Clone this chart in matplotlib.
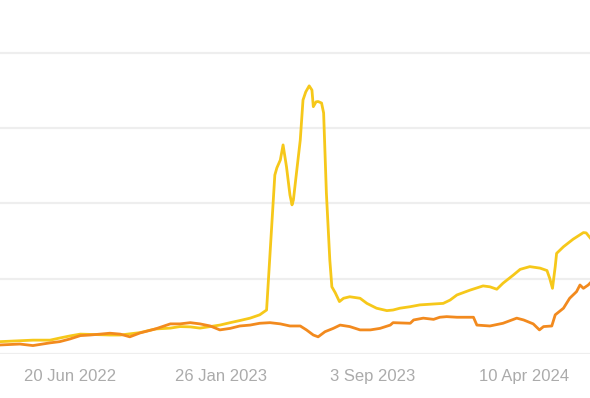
import matplotlib
matplotlib.use("Agg")
import matplotlib.pyplot as plt
import matplotlib.dates as mdates
import pandas as pd

plt.rcParams['font.family'] = ['Liberation Sans', 'DejaVu Sans']

# yellow series
yellow_dates = ["2022-03-10", "2022-04-08", "2022-04-27", "2022-05-22", "2022-06-05", "2022-06-20",
                "2022-07-05", "2022-07-19", "2022-08-03", "2022-08-17", "2022-09-01", "2022-09-30",
                "2022-10-22", "2022-11-13", "2022-11-27", "2022-12-12", "2022-12-26", "2023-01-10",
                "2023-01-24", "2023-02-08", "2023-02-22", "2023-03-09", "2023-03-23", "2023-04-02",
                "2023-04-14", "2023-04-17", "2023-04-22", "2023-04-26", "2023-05-01", "2023-05-06",
                "2023-05-09", "2023-05-11", "2023-05-16", "2023-05-21", "2023-05-25", "2023-05-29",
                "2023-06-03", "2023-06-07", "2023-06-09", "2023-06-13", "2023-06-16", "2023-06-21",
                "2023-06-24", "2023-06-28", "2023-07-03", "2023-07-06", "2023-07-11", "2023-07-17",
                "2023-07-23", "2023-08-01", "2023-08-16", "2023-08-26", "2023-09-09", "2023-09-24",
                "2023-10-03", "2023-10-13", "2023-10-28", "2023-11-11", "2023-12-01", "2023-12-15",
                "2023-12-25", "2024-01-04", "2024-01-23", "2024-02-11", "2024-02-21", "2024-03-02",
                "2024-03-11", "2024-03-26", "2024-04-05", "2024-04-19", "2024-05-04", "2024-05-14",
                "2024-05-18", "2024-05-22", "2024-05-26", "2024-05-28", "2024-06-07", "2024-06-21",
                "2024-07-06", "2024-07-10", "2024-07-16"]
yellow_vals = [4.1, 4.4, 4.6, 4.6, 5.3, 6.0,
               6.6, 6.5, 6.4, 6.3, 6.3, 7.1,
               8.3, 8.6, 9.1, 9.0, 8.6, 9.1,
               9.6, 10.4, 11.1, 11.9, 13.0, 14.6,
               59.4, 61.8, 64.4, 69.4, 62.1, 52.8,
               49.5, 51.1, 61.1, 71.0, 84.3, 87.0,
               89.0, 87.6, 82.1, 83.7, 83.8, 83.3,
               80.0, 53.5, 31.2, 22.3, 20.3, 17.4,
               18.5, 19.0, 18.5, 16.8, 15.2, 14.4,
               14.6, 15.2, 15.7, 16.3, 16.6, 16.8,
               17.9, 19.6, 21.2, 22.6, 22.3, 21.5,
               23.5, 26.2, 28.1, 29.0, 28.5, 27.7,
               25.1, 21.8, 29.0, 33.4, 35.6, 38.1,
               40.3, 40.2, 38.5]

# orange series
orange_dates = ["2022-03-10", "2022-04-08", "2022-04-27", "2022-05-22", "2022-06-05", "2022-06-20",
                "2022-07-05", "2022-07-19", "2022-08-03", "2022-08-17", "2022-09-01", "2022-09-15",
                "2022-09-30", "2022-10-22", "2022-11-13", "2022-11-27", "2022-12-12", "2022-12-26",
                "2023-01-10", "2023-01-24", "2023-02-08", "2023-02-22", "2023-03-09", "2023-03-23",
                "2023-04-07", "2023-04-22", "2023-05-06", "2023-05-21", "2023-05-30", "2023-06-09",
                "2023-06-16", "2023-06-26", "2023-07-08", "2023-07-18", "2023-08-01", "2023-08-16",
                "2023-08-31", "2023-09-14", "2023-09-29", "2023-10-03", "2023-10-28", "2023-11-02",
                "2023-11-16", "2023-12-01", "2023-12-10", "2023-12-20", "2024-01-04", "2024-01-28",
                "2024-02-02", "2024-02-21", "2024-03-11", "2024-03-31", "2024-04-10", "2024-04-24",
                "2024-05-03", "2024-05-09", "2024-05-21", "2024-05-26", "2024-06-07", "2024-06-16",
                "2024-06-26", "2024-07-01", "2024-07-06", "2024-07-13", "2024-07-16"]
orange_vals = [3.0, 3.3, 2.8, 3.7, 4.1, 5.0,
               6.1, 6.3, 6.6, 6.9, 6.6, 5.7,
               7.0, 8.3, 10.0, 10.0, 10.4, 10.0,
               9.3, 8.0, 8.5, 9.3, 9.6, 10.2,
               10.4, 10.0, 9.3, 9.3, 8.0, 6.3,
               5.7, 7.4, 8.5, 9.6, 9.1, 8.0,
               8.0, 8.5, 9.6, 10.4, 10.2, 11.3,
               11.9, 11.5, 12.2, 12.4, 12.2, 12.2,
               9.6, 9.3, 10.2, 11.9, 11.3, 10.0,
               8.0, 9.1, 9.3, 13.0, 15.2, 18.5,
               20.7, 22.9, 21.8, 22.9, 23.6]

tick_dates = ["2022-06-20", "2023-01-26", "2023-09-03", "2024-04-10"]
tick_labels = ["20 Jun 2022", "26 Jan 2023", "3 Sep 2023", "10 Apr 2024"]

fig = plt.figure(figsize=(5.9, 3.98), dpi=100)
ax = fig.add_axes([0, 44 / 398, 1, 1 - 44 / 398])

ax.plot(pd.to_datetime(yellow_dates), yellow_vals, color="#F6C81A", lw=2.0, solid_joinstyle="round", zorder=3)
ax.plot(pd.to_datetime(orange_dates), orange_vals, color="#F28A1E", lw=2.0, solid_joinstyle="round", zorder=4)

start = mdates.date2num(pd.Timestamp("2022-06-20"))
ax.set_xlim(start - 101.9, start + 756.6)
ax.set_ylim(0, 117.5)
ax.set_yticks([0, 25, 50, 75, 100])
ax.set_xticks(pd.to_datetime(tick_dates))
ax.set_xticklabels(tick_labels)
ax.tick_params(axis="x", length=0, pad=11, labelsize=12, labelcolor="#ababab")
ax.tick_params(axis="y", length=0, labelleft=False)
ax.grid(axis="y", color="#eeeeee", lw=1.6)
ax.grid(axis="x", visible=False)
ax.set_axisbelow(True)
for s in ax.spines.values():
    s.set_visible(False)

fig.savefig("out.png", dpi=100)
